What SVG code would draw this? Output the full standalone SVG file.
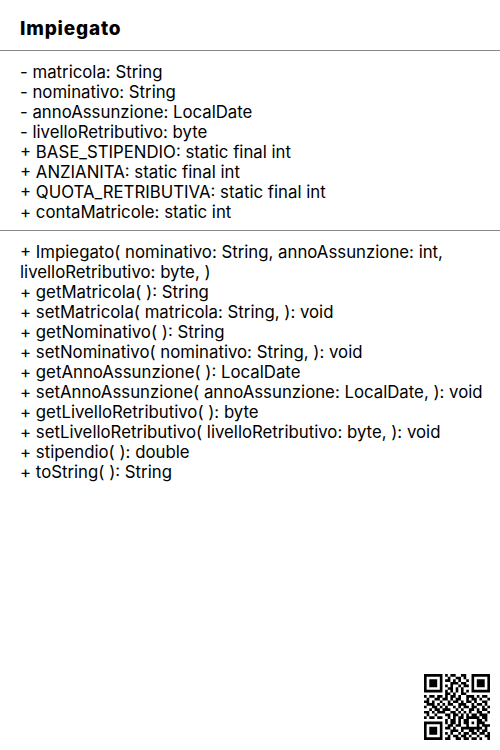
<svg xmlns="http://www.w3.org/2000/svg" width="500" height="750" viewBox="0 0 500 750">
<style>
.t{font-family:Inter,"Liberation Sans",Arial,sans-serif;font-size:16.8px;fill:#000}
.h{font-family:Inter,"Liberation Sans",Arial,sans-serif;font-size:19px;font-weight:800;letter-spacing:0.8px;fill:#000}
.sep{stroke:#888;stroke-width:1}
</style>
<rect width="500" height="750" fill="#fff"/>
<g id="class-Impiegato">
<text class="h" x="20" y="35">Impiegato</text>
<line class="sep" x1="0" y1="50.5" x2="500" y2="50.5"/>
<g id="attributes">
<text class="t" x="20" y="78">- matricola: String</text>
<text class="t" x="20" y="98">- nominativo: String</text>
<text class="t" x="20" y="118">- annoAssunzione: LocalDate</text>
<text class="t" x="20" y="138">- livelloRetributivo: byte</text>
<text class="t" x="20" y="158">+ BASE_STIPENDIO: static final int</text>
<text class="t" x="20" y="178">+ ANZIANITA: static final int</text>
<text class="t" x="20" y="198">+ QUOTA_RETRIBUTIVA: static final int</text>
<text class="t" x="20" y="218">+ contaMatricole: static int</text>
</g>
<line class="sep" x1="0" y1="230.5" x2="500" y2="230.5"/>
<g id="methods">
<text class="t" x="20" y="258">+ Impiegato( nominativo: String, annoAssunzione: int,</text>
<text class="t" x="20" y="278">livelloRetributivo: byte, )</text>
<text class="t" x="20" y="298">+ getMatricola( ): String</text>
<text class="t" x="20" y="318">+ setMatricola( matricola: String, ): void</text>
<text class="t" x="20" y="338">+ getNominativo( ): String</text>
<text class="t" x="20" y="358">+ setNominativo( nominativo: String, ): void</text>
<text class="t" x="20" y="378">+ getAnnoAssunzione( ): LocalDate</text>
<text class="t" x="20" y="398">+ setAnnoAssunzione( annoAssunzione: LocalDate, ): void</text>
<text class="t" x="20" y="418">+ getLivelloRetributivo( ): byte</text>
<text class="t" x="20" y="438">+ setLivelloRetributivo( livelloRetributivo: byte, ): void</text>
<text class="t" x="20" y="458">+ stipendio( ): double</text>
<text class="t" x="20" y="478">+ toString( ): String</text>
</g>
</g>
<g id="connectors"></g>
<g id="qr" transform="translate(424,674) scale(2.64)">
<path fill="#000" d="M0 0h7v1h-7zM8 0h1v1h-1zM10 0h2v1h-2zM14 0h2v1h-2zM18 0h7v1h-7z
M0 1h1v1h-1zM6 1h1v1h-1zM9 1h1v1h-1zM12 1h2v1h-2zM15 1h1v1h-1zM18 1h1v1h-1zM24 1h1v1h-1z
M0 2h1v1h-1zM2 2h3v1h-3zM6 2h1v1h-1zM8 2h2v1h-2zM11 2h1v1h-1zM13 2h1v1h-1zM16 2h1v1h-1zM18 2h1v1h-1zM20 2h3v1h-3zM24 2h1v1h-1z
M0 3h1v1h-1zM2 3h3v1h-3zM6 3h1v1h-1zM10 3h3v1h-3zM14 3h2v1h-2zM18 3h1v1h-1zM20 3h3v1h-3zM24 3h1v1h-1z
M0 4h1v1h-1zM2 4h3v1h-3zM6 4h1v1h-1zM8 4h1v1h-1zM10 4h1v1h-1zM13 4h1v1h-1zM15 4h2v1h-2zM18 4h1v1h-1zM20 4h3v1h-3zM24 4h1v1h-1z
M0 5h1v1h-1zM6 5h1v1h-1zM9 5h2v1h-2zM12 5h1v1h-1zM14 5h1v1h-1zM18 5h1v1h-1zM24 5h1v1h-1z
M0 6h7v1h-7zM8 6h1v1h-1zM10 6h1v1h-1zM12 6h1v1h-1zM14 6h1v1h-1zM16 6h1v1h-1zM18 6h7v1h-7z
M8 7h2v1h-2zM11 7h1v1h-1zM14 7h2v1h-2z
M0 8h1v1h-1zM2 8h2v1h-2zM5 8h2v1h-2zM8 8h1v1h-1zM10 8h2v1h-2zM13 8h1v1h-1zM16 8h3v1h-3zM20 8h1v1h-1zM22 8h2v1h-2z
M1 9h1v1h-1zM4 9h2v1h-2zM7 9h2v1h-2zM10 9h1v1h-1zM12 9h2v1h-2zM16 9h1v1h-1zM18 9h2v1h-2zM21 9h1v1h-1zM24 9h1v1h-1z
M0 10h2v1h-2zM3 10h1v1h-1zM6 10h1v1h-1zM9 10h1v1h-1zM11 10h2v1h-2zM14 10h1v1h-1zM16 10h2v1h-2zM19 10h1v1h-1zM22 10h2v1h-2z
M1 11h3v1h-3zM5 11h1v1h-1zM7 11h1v1h-1zM9 11h2v1h-2zM13 11h3v1h-3zM18 11h1v1h-1zM20 11h2v1h-2zM23 11h1v1h-1z
M0 12h1v1h-1zM3 12h2v1h-2zM6 12h1v1h-1zM8 12h1v1h-1zM11 12h1v1h-1zM13 12h1v1h-1zM15 12h2v1h-2zM18 12h2v1h-2zM22 12h1v1h-1zM24 12h1v1h-1z
M2 13h1v1h-1zM4 13h2v1h-2zM7 13h3v1h-3zM12 13h1v1h-1zM14 13h1v1h-1zM17 13h2v1h-2zM20 13h1v1h-1zM22 13h2v1h-2z
M0 14h2v1h-2zM3 14h1v1h-1zM5 14h3v1h-3zM10 14h2v1h-2zM13 14h1v1h-1zM15 14h1v1h-1zM17 14h1v1h-1zM20 14h2v1h-2zM24 14h1v1h-1z
M1 15h1v1h-1zM4 15h1v1h-1zM8 15h2v1h-2zM11 15h2v1h-2zM14 15h1v1h-1zM16 15h1v1h-1zM18 15h2v1h-2zM21 15h3v1h-3z
M0 16h1v1h-1zM2 16h2v1h-2zM5 16h2v1h-2zM9 16h1v1h-1zM11 16h1v1h-1zM13 16h2v1h-2zM16 16h5v1h-5zM22 16h2v1h-2z
M8 17h1v1h-1zM10 17h2v1h-2zM13 17h1v1h-1zM15 17h2v1h-2zM20 17h2v1h-2zM23 17h1v1h-1z
M0 18h7v1h-7zM8 18h1v1h-1zM10 18h2v1h-2zM13 18h1v1h-1zM15 18h2v1h-2zM18 18h1v1h-1zM20 18h3v1h-3z
M0 19h1v1h-1zM6 19h1v1h-1zM9 19h2v1h-2zM12 19h2v1h-2zM16 19h1v1h-1zM20 19h1v1h-1zM22 19h3v1h-3z
M0 20h1v1h-1zM2 20h3v1h-3zM6 20h1v1h-1zM8 20h2v1h-2zM11 20h1v1h-1zM14 20h8v1h-8zM23 20h1v1h-1z
M0 21h1v1h-1zM2 21h3v1h-3zM6 21h1v1h-1zM10 21h3v1h-3zM14 21h1v1h-1zM17 21h2v1h-2zM20 21h1v1h-1zM22 21h2v1h-2z
M0 22h1v1h-1zM2 22h3v1h-3zM6 22h1v1h-1zM8 22h1v1h-1zM10 22h1v1h-1zM13 22h1v1h-1zM15 22h2v1h-2zM18 22h2v1h-2zM21 22h2v1h-2zM24 22h1v1h-1z
M0 23h1v1h-1zM6 23h1v1h-1zM9 23h1v1h-1zM11 23h2v1h-2zM14 23h2v1h-2zM17 23h1v1h-1zM20 23h1v1h-1zM23 23h2v1h-2z
M0 24h7v1h-7zM8 24h2v1h-2zM12 24h2v1h-2zM15 24h2v1h-2zM18 24h2v1h-2zM21 24h1v1h-1zM24 24h1v1h-1z"/>
</g>
</svg>
